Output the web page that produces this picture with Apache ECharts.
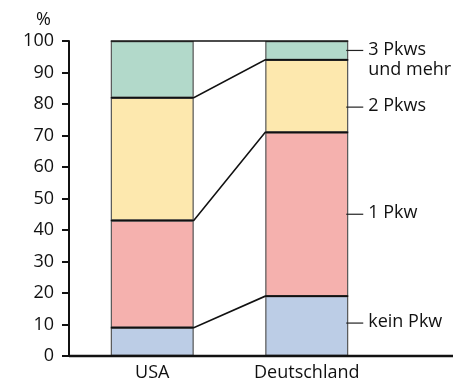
<!DOCTYPE html>
<html>
<head>
<meta charset="utf-8">
<script src="https://cdn.jsdelivr.net/npm/echarts@6/dist/echarts.min.js"></script>
<style>
  html, body { margin: 0; padding: 0; background: #fff; }
  #chart { width: 454px; height: 383px; }
</style>
</head>
<body>
<div id="chart"></div>
<script>
// Haushalte nach Anzahl der Pkw (Anteile in %)
const countries = ['USA', 'Deutschland'];
const seriesNames = ['kein Pkw', '1 Pkw', '2 Pkws', '3 Pkws\nund mehr'];
const keinPkw = [9, 19];
const einPkw = [34, 52];
const zweiPkws = [39, 23];
const dreiPkws = [18, 6];
const yTicks = [0, 10, 20, 30, 40, 50, 60, 70, 80, 90, 100];

const values = [keinPkw, einPkw, zweiPkws, dreiPkws];
const colors = ['#bccde6', '#f5b1ae', '#fde8ae', '#b2d9ca'];
const labelNudge = [-3, 0, 11, 0]; // vertical pixel shift of the side labels
const BAR_W = 83;
const FONT = '"Open Sans", "Noto Sans", sans-serif';
const TEXT = '#111';

// cumulative tops of each segment per country
const tops = values.map((_, i) =>
  countries.map((_, c) => values.slice(0, i + 1).reduce((s, arr) => s + arr[c], 0)));
const bottoms = values.map((_, i) =>
  countries.map((_, c) => values.slice(0, i).reduce((s, arr) => s + arr[c], 0)));

const barSeries = values.map((arr, i) => ({
  type: 'bar',
  name: seriesNames[i],
  stack: 'total',
  barWidth: BAR_W,
  data: arr,
  itemStyle: { color: colors[i], borderColor: '#555', borderWidth: 1.2 },
  silent: true
}));

// segment boundaries: across the left bar, over to the right bar, across it
const connectorData = tops.map(t => [t[0], t[1]]);
const connectorSeries = {
  type: 'custom',
  silent: true,
  z: 5,
  data: connectorData,
  renderItem: (params, api) => {
    const a = api.coord([0, api.value(0)]);
    const b = api.coord([1, api.value(1)]);
    const h = BAR_W / 2;
    return {
      type: 'polyline',
      shape: { points: [[a[0] - h, a[1]], [a[0] + h, a[1]], [b[0] - h, b[1]], [b[0] + h, b[1]]] },
      style: { stroke: '#111', lineWidth: 1.6, fill: null }
    };
  }
};

// side labels next to the right bar
const labelData = seriesNames.map((n, i) => [(bottoms[i][1] + tops[i][1]) / 2, i]);
const labelSeries = {
  type: 'custom',
  silent: true,
  z: 6,
  data: labelData,
  renderItem: (params, api) => {
    const i = api.value(1);
    const p = api.coord([1, api.value(0)]);
    const x = p[0] + BAR_W / 2;
    const y = p[1] + labelNudge[i];
    return {
      type: 'group',
      children: [
        { type: 'line', shape: { x1: x - 2, y1: y, x2: x + 15, y2: y },
          style: { stroke: '#222', lineWidth: 1.2 } },
        { type: 'text', x: x + 20, y: y - 11,
          style: { text: seriesNames[i], fill: TEXT, font: '18px ' + FONT,
                   lineHeight: 20, verticalAlign: 'top', align: 'left' } }
      ]
    };
  }
};

const chart = echarts.init(document.getElementById('chart'), null, { renderer: 'canvas' });
chart.setOption({
  animation: false,
  backgroundColor: '#fff',
  grid: { left: 75, right: 70, top: 41, bottom: 27 },
  xAxis: {
    type: 'category',
    data: countries,
    axisLine: { show: false },
    axisTick: { show: false },
    axisLabel: { color: TEXT, fontSize: 18, fontFamily: FONT, margin: 8 }
  },
  yAxis: {
    type: 'value',
    min: yTicks[0],
    max: yTicks[yTicks.length - 1],
    interval: yTicks[1] - yTicks[0],
    offset: 6,
    name: '%',
    nameLocation: 'end',
    nameGap: 12,
    nameTextStyle: { color: TEXT, fontSize: 18, fontFamily: FONT, align: 'right', padding: [0, 18, 0, 0] },
    axisLine: { show: true, lineStyle: { color: '#111', width: 2 } },
    axisTick: { show: true, length: 7, lineStyle: { color: '#111', width: 2 } },
    axisLabel: { color: TEXT, fontSize: 18, fontFamily: FONT, margin: 15 },
    splitLine: { show: false }
  },
  series: [...barSeries, connectorSeries, labelSeries]
});

// baseline running from the value axis to the right edge
const y0 = chart.convertToPixel({ yAxisIndex: 0 }, 0);
chart.setOption({
  graphic: [{
    type: 'line', z: 100,
    shape: { x1: 69, y1: y0, x2: 453, y2: y0 },
    style: { stroke: '#111', lineWidth: 2.5 }
  }]
});
</script>
</body>
</html>
